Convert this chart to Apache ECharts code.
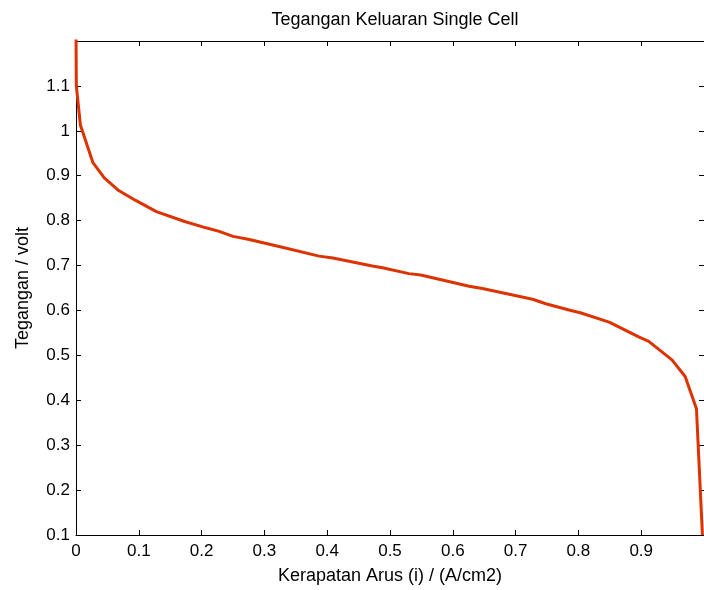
<!DOCTYPE html>
<html>
<head>
<meta charset="utf-8">
<script src="https://cdn.jsdelivr.net/npm/echarts@6/dist/echarts.min.js"></script>
<style>
html,body{margin:0;padding:0;background:#fff;}
#chart{width:704px;height:590px;}
</style>
</head>
<body>
<div id="chart"></div>
<script>
var titleText = 'Tegangan Keluaran Single Cell';
var xName = 'Kerapatan Arus (i) / (A/cm2)';
var yName = 'Tegangan / volt';
var currentDensity = [0, 0.0005, 0.007, 0.027, 0.045, 0.068, 0.095, 0.128, 0.173, 0.207, 0.228, 0.25, 0.276, 0.33, 0.387, 0.409, 0.472, 0.488, 0.53, 0.549, 0.626, 0.647, 0.727, 0.748, 0.785, 0.803, 0.849, 0.896, 0.912, 0.949, 0.97, 0.988, 0.9975];
var voltage = [1.22, 1.1, 1.013, 0.929, 0.895, 0.867, 0.845, 0.82, 0.798, 0.784, 0.776, 0.765, 0.758, 0.74, 0.721, 0.717, 0.699, 0.695, 0.682, 0.679, 0.654, 0.649, 0.625, 0.615, 0.601, 0.595, 0.574, 0.541, 0.531, 0.49, 0.453, 0.381, 0.1];

var seriesData = currentDensity.map(function (x, i) { return [x, voltage[i]]; });
function fmt(v) { return String(Math.round(v * 10) / 10); }
var font = 'Liberation Sans, Arial, sans-serif';
var axisCommon = {
  axisLine: { show: true, onZero: false, lineStyle: { color: '#000', width: 1 } },
  axisTick: { show: true, inside: true, length: 5, lineStyle: { color: '#000' } },
  splitLine: { show: false }
};
var chart = echarts.init(document.getElementById('chart'));
chart.setOption({
  animation: false,
  backgroundColor: '#fff',
  title: {
    text: titleText, left: 390, textAlign: 'center', top: 6,
    textStyle: { fontFamily: font, fontSize: 18, fontWeight: 'normal', color: '#000' }
  },
  grid: { left: 76, right: -1, top: 41, bottom: 53 },
  xAxis: [
    Object.assign({}, axisCommon, {
      type: 'value', min: 0, max: 1, interval: 0.1, position: 'bottom',
      name: xName, nameLocation: 'middle', nameGap: 32,
      nameTextStyle: { fontFamily: font, fontSize: 18, color: '#000' },
      axisLabel: { show: true, showMaxLabel: false, margin: 8, formatter: fmt, fontFamily: font, fontSize: 17, color: '#000' }
    }),
    Object.assign({}, axisCommon, {
      type: 'value', min: 0, max: 1, interval: 0.1, position: 'top',
      axisLabel: { show: false }
    })
  ],
  yAxis: [
    Object.assign({}, axisCommon, {
      type: 'value', min: 0.1, max: 1.2, interval: 0.1, position: 'left',
      name: yName, nameLocation: 'middle', nameGap: 44, nameRotate: 90,
      nameTextStyle: { fontFamily: font, fontSize: 18, color: '#000' },
      axisLabel: { show: true, showMaxLabel: false, margin: 6, formatter: fmt, fontFamily: font, fontSize: 17, color: '#000' }
    }),
    Object.assign({}, axisCommon, {
      type: 'value', min: 0.1, max: 1.2, interval: 0.1, position: 'right',
      axisLabel: { show: false }
    })
  ],
  series: [{
    type: 'line',
    data: seriesData,
    xAxisIndex: 0, yAxisIndex: 0,
    showSymbol: false,
    clip: true,
    lineStyle: { color: '#dd3300', width: 3 }
  }]
});
</script>
</body>
</html>
